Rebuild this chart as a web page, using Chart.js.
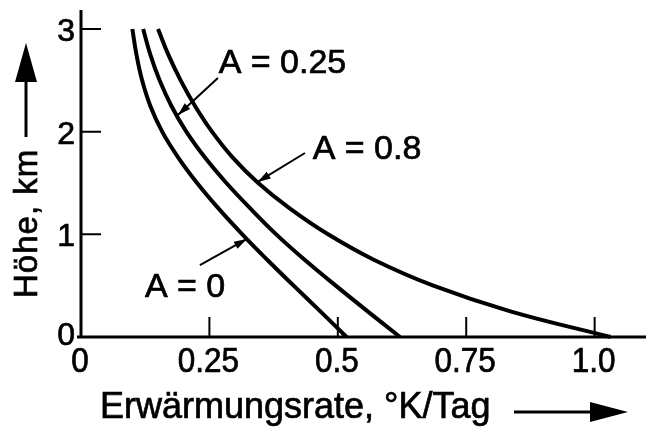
<!DOCTYPE html>
<html>
<head>
<meta charset="utf-8">
<script src="https://cdn.jsdelivr.net/npm/chart.js@4"></script>
<style>
  html, body { margin: 0; padding: 0; background: #fff; }
  canvas { display: block; }
</style>
</head>
<body>
<canvas id="chart" width="647" height="429"></canvas>
<script>
// Höhe in km, von oben nach unten
const heights = [3.0, 2.75, 2.5, 2.25, 2.0, 1.75, 1.5, 1.25, 1.0, 0.75, 0.5, 0.25, 0];
// Erwärmungsrate in °K/Tag für die drei Albedo-Werte
const rateA0   = [0.100, 0.108, 0.119, 0.135, 0.158, 0.189, 0.226, 0.268, 0.314, 0.363, 0.414, 0.466, 0.517];
const rateA025 = [0.121, 0.135, 0.153, 0.176, 0.205, 0.241, 0.283, 0.330, 0.380, 0.436, 0.496, 0.558, 0.621];
const rateA08  = [0.150, 0.170, 0.194, 0.222, 0.255, 0.295, 0.345, 0.407, 0.481, 0.571, 0.686, 0.836, 1.031];

const xTicks = [0, 0.25, 0.5, 0.75, 1.0];
const xTickLabels = ['0', '0.25', '0.5', '0.75', '1.0'];
const yTicks = [0, 1, 2, 3];
const yTickLabels = ['0', '1', '2', '3'];

// Beschriftung der Kurven: Textanfang und Pfeil (in Achsenwerten)
const curveLabels = [
  { text: 'A = 0.25', at: [0.268, 2.571], from: [0.2665, 2.523], to: [0.1887, 2.162] },
  { text: 'A = 0.8',  at: [0.451, 1.734], from: [0.436, 1.792],  to: [0.344, 1.510] },
  { text: 'A = 0',    at: [0.1245, 0.390], from: [0.2315, 0.701], to: [0.323, 0.955] }
];

const FONT = '"Liberation Sans", Arial, sans-serif';

function points(xs) {
  return xs.map((x, i) => ({ x: x, y: heights[i] }));
}

// Text etwas kräftiger als normal, optional schmaler gestellt
function drawText(ctx, str, x, y, size, align, sx, spacing) {
  ctx.save();
  ctx.translate(x, y);
  ctx.scale(sx || 1, 1);
  ctx.font = size + 'px ' + FONT;
  ctx.textAlign = align;
  ctx.textBaseline = 'alphabetic';
  if (spacing) ctx.letterSpacing = spacing;
  ctx.lineWidth = 0.7;
  ctx.fillText(str, 0, 0);
  ctx.strokeText(str, 0, 0);
  ctx.restore();
}

function arrowHead(ctx, x0, y0, x1, y1, len, half) {
  const a = Math.atan2(y1 - y0, x1 - x0);
  ctx.beginPath();
  ctx.moveTo(x1, y1);
  ctx.lineTo(x1 - len * Math.cos(a) + half * Math.sin(a), y1 - len * Math.sin(a) - half * Math.cos(a));
  ctx.lineTo(x1 - len * Math.cos(a) - half * Math.sin(a), y1 - len * Math.sin(a) + half * Math.cos(a));
  ctx.closePath();
  ctx.fill();
}

const axesPlugin = {
  id: 'axes',
  afterDraw(chart) {
    const ctx = chart.ctx;
    const xs = chart.scales.x, ys = chart.scales.y;
    const area = chart.chartArea;
    const x0 = xs.getPixelForValue(0), y0 = ys.getPixelForValue(0);
    ctx.save();
    ctx.strokeStyle = '#000';
    ctx.fillStyle = '#000';
    ctx.lineCap = 'butt';

    // Achsen
    ctx.lineWidth = 3;
    ctx.beginPath();
    ctx.moveTo(x0, area.top);
    ctx.lineTo(x0, y0);
    ctx.moveTo(x0 - 4, y0);
    ctx.lineTo(area.right, y0);
    ctx.stroke();

    // Teilstriche nach innen
    ctx.lineWidth = 2;
    ctx.beginPath();
    yTicks.forEach(v => {
      if (v === 0) return;
      const p = ys.getPixelForValue(v);
      ctx.moveTo(x0, p);
      ctx.lineTo(x0 + 20, p);
    });
    xTicks.forEach(v => {
      if (v === 0) return;
      const p = xs.getPixelForValue(v);
      ctx.moveTo(p, y0);
      ctx.lineTo(p, y0 - 20);
    });
    ctx.stroke();

    // Zahlen an den Achsen
    xTicks.forEach((v, i) => {
      drawText(ctx, xTickLabels[i], xs.getPixelForValue(v) - 1, y0 + 35, 35, 'center', 0.9);
    });
    yTicks.forEach((v, i) => {
      const off = v === 0 ? 8 : 12;
      drawText(ctx, yTickLabels[i], x0 - 6, ys.getPixelForValue(v) + off, 32, 'right', 1);
    });

    // Achsentitel mit Pfeilen
    drawText(ctx, 'Erwärmungsrate, °K/Tag', 100, 418, 36, 'left', 1);
    ctx.lineWidth = 3;
    ctx.beginPath();
    ctx.moveTo(514, 412);
    ctx.lineTo(595, 412);
    ctx.stroke();
    arrowHead(ctx, 514, 412, 628, 412, 38, 10);

    ctx.save();
    ctx.translate(37, 298);
    ctx.rotate(-Math.PI / 2);
    drawText(ctx, 'Höhe, km', 0, 0, 33, 'left', 1, '1px');
    ctx.restore();
    ctx.lineWidth = 3;
    ctx.beginPath();
    ctx.moveTo(26, 137);
    ctx.lineTo(26, 78);
    ctx.stroke();
    arrowHead(ctx, 26, 137, 26, 43, 39, 11);

    // Kurvenbeschriftungen
    ctx.lineWidth = 2;
    curveLabels.forEach(l => {
      drawText(ctx, l.text, xs.getPixelForValue(l.at[0]), ys.getPixelForValue(l.at[1]), 34, 'left', 1);
      const fx = xs.getPixelForValue(l.from[0]), fy = ys.getPixelForValue(l.from[1]);
      const tx = xs.getPixelForValue(l.to[0]), ty = ys.getPixelForValue(l.to[1]);
      ctx.lineWidth = 2;
      ctx.beginPath();
      ctx.moveTo(fx, fy);
      ctx.lineTo(tx, ty);
      ctx.stroke();
      arrowHead(ctx, fx, fy, tx, ty, 13, 4);
    });
    ctx.restore();
  }
};

const curveStyle = {
  borderColor: '#000',
  borderWidth: 4,
  pointRadius: 0,
  tension: 0.4,
  fill: false,
  clip: false
};

new Chart(document.getElementById('chart').getContext('2d'), {
  type: 'scatter',
  data: {
    datasets: [
      Object.assign({ label: 'A = 0', data: points(rateA0), showLine: true }, curveStyle),
      Object.assign({ label: 'A = 0.25', data: points(rateA025), showLine: true }, curveStyle),
      Object.assign({ label: 'A = 0.8', data: points(rateA08), showLine: true }, curveStyle)
    ]
  },
  options: {
    responsive: false,
    animation: false,
    devicePixelRatio: 1,
    layout: { padding: { left: 81, top: 10, right: 1, bottom: 92 } },
    plugins: { legend: { display: false }, tooltip: { enabled: false } },
    scales: {
      x: { type: 'linear', min: 0, max: 1.1, display: false },
      y: { type: 'linear', min: 0, max: 3.185, display: false }
    }
  },
  plugins: [axesPlugin]
});
</script>
</body>
</html>
